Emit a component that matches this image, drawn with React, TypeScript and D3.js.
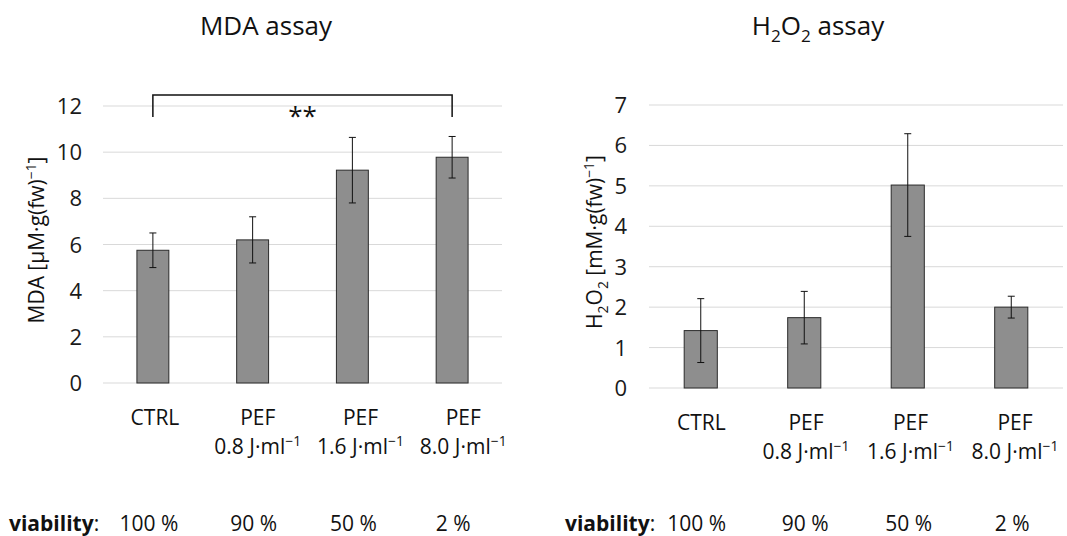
import React, { useEffect, useRef } from 'react'
import * as d3 from 'd3'

const categories = ['CTRL', 'PEF 0.8', 'PEF 1.6', 'PEF 8.0']
const labelTop = ['CTRL', 'PEF', 'PEF', 'PEF']
const labelDose = ['', '0.8', '1.6', '8.0']
const viability = ['100 %', '90 %', '50 %', '2 %']

const mdaMeans = [5.75, 6.2, 9.22, 9.78]
const mdaErrors = [0.75, 1.0, 1.42, 0.9]
const mdaTicks = [0, 2, 4, 6, 8, 10, 12]

const h2o2Means = [1.42, 1.74, 5.02, 2.0]
const h2o2Errors = [0.79, 0.65, 1.27, 0.27]
const h2o2Ticks = [0, 1, 2, 3, 4, 5, 6, 7]

const FONT = '"Open Sans", sans-serif'
const BAR_FILL = '#8e8e8e'
const GRID = '#d9d9d9'

type Part = [string, 'sup' | 'sub' | null]

// writes text made of pieces with sub/superscripts
function richText(sel: any, parts: Part[], size: number) {
  let shift = 0
  parts.forEach(([txt, kind]) => {
    const target = kind === 'sup' ? -size * 0.38 : kind === 'sub' ? size * 0.28 : 0
    sel
      .append('tspan')
      .attr('dy', target - shift)
      .attr('font-size', kind ? size * 0.66 : size)
      .text(txt)
    shift = target
  })
}

function drawPanel(g: any, cfg: any) {
  const { means, errors, ticks, yMax, xRange, yRange, tickX, title, titleX, yLabel, yLabelX, yLabelY, labelShift, labelY, viaX } = cfg

  const x = d3.scaleBand().domain(categories).range(xRange)
  const y = d3.scaleLinear().domain([0, yMax]).range(yRange)
  const bw = x.bandwidth() * 0.32
  const cx = (c: string) => (x(c) as number) + x.bandwidth() / 2

  // gridlines
  g.selectAll('.grid')
    .data(ticks)
    .enter()
    .append('line')
    .attr('x1', xRange[0])
    .attr('x2', xRange[1])
    .attr('y1', (d: number) => y(d))
    .attr('y2', (d: number) => y(d))
    .attr('stroke', GRID)
    .attr('stroke-width', 1)

  // tick labels
  g.selectAll('.tick')
    .data(ticks)
    .enter()
    .append('text')
    .attr('x', tickX)
    .attr('y', (d: number) => y(d) + 8)
    .attr('text-anchor', 'end')
    .attr('font-size', 22)
    .attr('fill', '#1a1a1a')
    .text((d: number) => d)

  // bars
  g.selectAll('.bar')
    .data(means)
    .enter()
    .append('rect')
    .attr('x', (d: number, i: number) => cx(categories[i]) - bw / 2)
    .attr('y', (d: number) => y(d))
    .attr('width', bw)
    .attr('height', (d: number) => y(0) - y(d))
    .attr('fill', BAR_FILL)
    .attr('stroke', '#2b2b2b')
    .attr('stroke-width', 1)

  // error bars
  const err = g
    .selectAll('.err')
    .data(means)
    .enter()
    .append('g')
  err
    .append('line')
    .attr('x1', (d: number, i: number) => cx(categories[i]))
    .attr('x2', (d: number, i: number) => cx(categories[i]))
    .attr('y1', (d: number, i: number) => y(d + errors[i]))
    .attr('y2', (d: number, i: number) => y(d - errors[i]))
    .attr('stroke', '#111')
    .attr('stroke-width', 1)
  ;[1, -1].forEach(s => {
    err
      .append('line')
      .attr('x1', (d: number, i: number) => cx(categories[i]) - 3.5)
      .attr('x2', (d: number, i: number) => cx(categories[i]) + 3.5)
      .attr('y1', (d: number, i: number) => y(d + s * errors[i]))
      .attr('y2', (d: number, i: number) => y(d + s * errors[i]))
      .attr('stroke', '#111')
      .attr('stroke-width', 1)
  })

  // title
  const t = g
    .append('text')
    .attr('x', titleX)
    .attr('y', 35)
    .attr('text-anchor', 'middle')
    .attr('fill', '#111')
  richText(t, title, 26)

  // y axis label
  const yl = g
    .append('text')
    .attr('transform', `translate(${yLabelX},${yLabelY}) rotate(-90)`)
    .attr('text-anchor', 'middle')
    .attr('fill', '#111')
  richText(yl, yLabel, 21)

  // category labels
  categories.forEach((c, i) => {
    const lx = cx(c) + labelShift * i + labelShift * 0.7
    g.append('text')
      .attr('x', lx)
      .attr('y', labelY)
      .attr('text-anchor', 'middle')
      .attr('font-size', 21)
      .attr('fill', '#111')
      .text(labelTop[i])
    if (labelDose[i]) {
      const dl = g
        .append('text')
        .attr('x', lx)
        .attr('y', labelY + 29)
        .attr('text-anchor', 'middle')
        .attr('fill', '#111')
      richText(dl, [[labelDose[i] + ' J·ml', null], ['−1', 'sup']], 21)
    }
  })

  // viability row
  const vl = g
    .append('text')
    .attr('x', viaX)
    .attr('y', 531)
    .attr('font-size', 21)
    .attr('fill', '#111')
  vl.append('tspan').attr('font-weight', 'bold').text('viability')
  vl.append('tspan').text(':')
  g.selectAll('.via')
    .data(viability)
    .enter()
    .append('text')
    .attr('x', (d: string, i: number) => cx(categories[i]) + (i === 0 ? -4 : 1))
    .attr('y', 531)
    .attr('text-anchor', 'middle')
    .attr('font-size', 21)
    .attr('fill', '#111')
    .text((d: string) => d)

  return { x, y, cx }
}

export default function App() {
  const ref = useRef<SVGSVGElement>(null)

  useEffect(() => {
    const svg = d3.select(ref.current)
    svg.selectAll('*').remove()
    const root = svg.append('g').attr('font-family', FONT)

    const left = drawPanel(root.append('g'), {
      means: mdaMeans,
      errors: mdaErrors,
      ticks: mdaTicks,
      yMax: 12,
      xRange: [103, 502],
      yRange: [383, 106],
      tickX: 82,
      title: [['MDA assay', null]],
      titleX: 266,
      yLabel: [['MDA [µM·g(fw)', null], ['−1', 'sup'], [']', null]],
      yLabelX: 44,
      yLabelY: 240,
      labelShift: 3,
      labelY: 425,
      viaX: 9
    })

    drawPanel(root.append('g'), {
      means: h2o2Means,
      errors: h2o2Errors,
      ticks: h2o2Ticks,
      yMax: 7,
      xRange: [649, 1063],
      yRange: [388, 105],
      tickX: 627,
      title: [['H', null], ['2', 'sub'], ['O', null], ['2', 'sub'], [' assay', null]],
      titleX: 818,
      yLabel: [['H', null], ['2', 'sub'], ['O', null], ['2', 'sub'], [' [mM·g(fw)', null], ['−1', 'sup'], [']', null]],
      yLabelX: 602,
      yLabelY: 242,
      labelShift: 1,
      labelY: 430,
      viaX: 565
    })

    // significance bracket between CTRL and PEF 8.0
    const x1 = left.cx(categories[0])
    const x2 = left.cx(categories[3])
    const b = root.append('g')
    b.append('path')
      .attr('d', `M${x1},${117} V${95} H${x2} V${117}`)
      .attr('fill', 'none')
      .attr('stroke', '#111')
      .attr('stroke-width', 1.5)
    b.append('text')
      .attr('x', (x1 + x2) / 2)
      .attr('y', 125)
      .attr('text-anchor', 'middle')
      .attr('font-size', 26)
      .attr('fill', '#111')
      .text('**')
  }, [])

  return (
    <svg
      ref={ref}
      width={1067}
      height={536}
      style={{ position: 'absolute', left: 0, top: 0, background: '#fff' }}
    />
  )
}
